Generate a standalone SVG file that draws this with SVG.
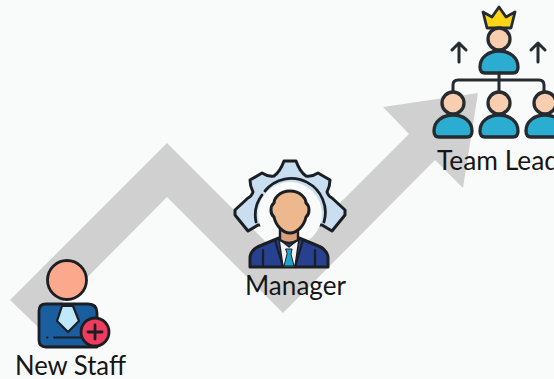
<svg xmlns="http://www.w3.org/2000/svg" width="554" height="379" viewBox="0 0 554 379">
<style>
.t{font-family:Lato,"Liberation Sans",sans-serif;font-size:26px;fill:#161616}
.o{stroke:#262b30;stroke-width:3.3;stroke-linejoin:round;stroke-linecap:round}
.l{fill:none;stroke:#262b30;stroke-width:3;stroke-linecap:round;stroke-linejoin:round}
.skin{fill:#f9cdb0}
.blue{fill:#2bacd1}
.k{stroke:#1b1f24;stroke-linejoin:round;stroke-linecap:round}
</style>
<defs>
<g id="person">
<circle cx="0" cy="0" r="11" class="o skin"/>
<path d="M-19,28 C-19,18 -10,12 0,12 C10,12 19,18 19,28 Q19,34 14,34 H-14 Q-19,34 -19,28 Z" class="o blue"/>
</g>
</defs>
<rect width="554" height="379" fill="#f9fafa"/>
<g id="connectors">
<path id="growth-arrow" d="M10,300 L167,143 L283.500,259.500 L409,134 L383,107 L478,93 L463,188 L435,160 L283,313 L167,197 L38,327 Z" fill="#d0d0d0"/>
</g>
<g id="new-staff">
<circle cx="67" cy="280" r="19.500" fill="#fba88c" stroke="#1b1f24" stroke-width="2.800"/>
<path d="M46,304 H88 Q97,304 97,313 V347 H46 Q39,347 39,340 V311 Q39,304 46,304 Z" fill="#1a5ea0" class="k" stroke-width="2.800"/>
<path d="M62,306 H73 L79,321 L68,332 L57,321 Z" fill="#bfe8fb" class="k" stroke-width="2.200"/>
<path d="M54,337.500 H82 M47,337.500 H47.500" class="k" stroke-width="2" fill="none"/>
<circle cx="95" cy="332" r="14" fill="#ef3b5f" class="k" stroke-width="2.800"/>
<path d="M95,325 V339 M88,332 H102" class="k" stroke-width="2.800" fill="none"/>
<text x="15" y="375" class="t" textLength="111" lengthAdjust="spacingAndGlyphs">New Staff</text>
</g>
<g id="manager">
<path d="M284,161 H296 Q300,172 306,176 Q312,177 318,173 L330,180 Q330,186 327,192 Q328,196 332,198 L345,210 V215 L332,231 L322,225 L258,225 L248,231 L235,215 V210 L248,198 Q252,196 253,192 Q250,186 250,180 L262,173 Q268,177 274,176 Q280,172 284,161 Z" fill="#c9dff1" class="k" stroke-width="3"/>
<circle cx="290" cy="214" r="32" fill="#f9fafa"/>
<path d="M256,222 A34,34 0 0 1 262,195 M265,191 A34,34 0 0 1 324,222" fill="none" class="k" stroke-width="2.800"/>
<path d="M250,267 V257 C251,250 256,247 262,245 L279,238 H299 L316,245 C322,247 327,250 328,257 V267 Z" fill="#27408f" class="k" stroke-width="3"/>
<path d="M279,239 L289,247 L299,239 L295,267 H283 Z" fill="#f3f3f3" class="k" stroke-width="1.500"/>
<path d="M275,240 L283,267 M303,240 L295,267 M263,250 V266 M315,250 V266" fill="none" class="k" stroke-width="2.200"/>
<path d="M286,249 H292 L291,254 L294,266 H284 L287,254 Z" fill="#1fa3cf" class="k" stroke-width="1"/>
<path d="M280,228 V240 Q289,246 298,240 V228 Z" fill="#d99f78" class="k" stroke-width="2.400"/>
<path d="M290,191 C301,191 306,199 306,203 C310,206 310,214 306,217 C304,226 297,233 290,233 C283,233 276,226 274,217 C270,214 270,206 274,203 C274,199 279,191 290,191 Z" fill="#eeb88f" class="k" stroke-width="3"/>
<text x="245" y="295" class="t" textLength="101" lengthAdjust="spacingAndGlyphs">Manager</text>
</g>
<g id="team-lead">
<path d="M487,28 L483,12 L492,17 L499,7 L506,17 L515,12 L511,28 Z" fill="#fbd516" stroke="#262b30" stroke-width="2.800" stroke-linejoin="round"/>
<use href="#person" x="499" y="39"/>
<path d="M459,62 V44 M452,50 L459,43 L466,50 M538,62 V44 M531,50 L538,43 L545,50 M499,73 V91 M453,91 V85 Q453,80 458,80 H539 Q544,80 544,85 V91" class="l"/>
<use href="#person" x="453" y="103"/>
<use href="#person" x="499" y="103"/>
<use href="#person" x="545" y="103"/>
<text x="437" y="170" class="t" textLength="122" lengthAdjust="spacingAndGlyphs">Team Lead</text>
</g>
</svg>
